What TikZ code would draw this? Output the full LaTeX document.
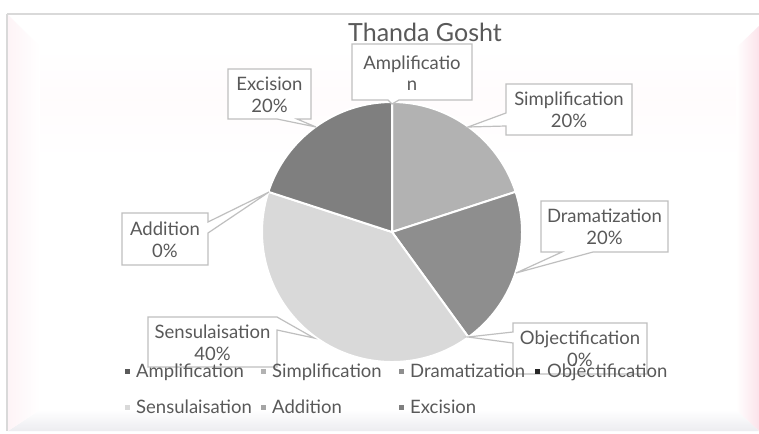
\documentclass[tikz,border=0pt]{standalone}
\usepackage{fontspec}
\setmainfont{Lato}
\definecolor{txt}{HTML}{595959}
\definecolor{edge}{HTML}{BFBFBF}
\definecolor{frameline}{HTML}{D9D9D9}
\definecolor{glow}{HTML}{FBE3EA}
\definecolor{floor}{HTML}{ECECF0}
\definecolor{cAmp}{HTML}{5A5A5A}
\definecolor{cSim}{HTML}{B2B2B2}
\definecolor{cDra}{HTML}{8E8E8E}
\definecolor{cObj}{HTML}{262626}
\definecolor{cSen}{HTML}{D9D9D9}
\definecolor{cAdd}{HTML}{A5A5A5}
\definecolor{cExc}{HTML}{7F7F7F}
\begin{document}
\begin{tikzpicture}[x=1pt,y=-1pt,
  slice/.style={draw=white,line width=2pt,line join=round},
  callout/.style={draw=edge,fill=white,line width=1.2pt,line join=miter},
  lab/.style={text=txt,font=\fontsize{18.5}{21.5}\selectfont,align=center,inner sep=0pt},
  legtext/.style={text=txt,font=\fontsize{18.5}{21}\selectfont,anchor=base west,inner sep=0pt},
  legmark/.style={inner sep=0pt,minimum size=5pt,anchor=center}]
\useasboundingbox (0,0) rectangle (759,433);
% chart area with soft bevelled edges
\fill[white] (0,0) rectangle (759,433);
\shade[left color=white,right color=glow] (736,48) -- (759,26) -- (759,431) -- (736,410) -- cycle;
\shade[top color=white,bottom color=floor] (40,410) -- (736,410) -- (759,431) -- (8,431) -- cycle;
\shade[left color=glow!40,right color=white] (8,15) -- (40,47) -- (40,410) -- (8,431) -- cycle;
\shade[top color=white,bottom color=glow!12] (40,47) rectangle (736,100);
\shade[top color=glow!12,bottom color=white] (40,100) rectangle (736,160);
\draw[frameline,line width=1.5pt] (7,14) -- (760,14);
\draw[frameline,line width=1.5pt] (7,14) -- (7,431);
% title
\node[text=txt,font=\fontsize{25}{25}\selectfont,inner sep=0pt,anchor=base] (title) at (425,42) {Thanda Gosht};
% pie, centre (392,232), radius 130
\coordinate (c) at (392,232);
\fill[cSim,slice] (c) -- ++(-90:130) arc[start angle=-90,end angle=-18,radius=130] -- cycle;
\fill[cDra,slice] (c) -- ++(-18:130) arc[start angle=-18,end angle=54,radius=130] -- cycle;
\fill[cSen,slice] (c) -- ++(54:130) arc[start angle=54,end angle=198,radius=130] -- cycle;
\fill[cExc,slice] (c) -- ++(198:130) arc[start angle=198,end angle=270,radius=130] -- cycle;
% data label callouts
\draw[callout] (352,44) -- (472,44) -- (472,100) -- (399,100) -- (392,104) -- (388,100) -- (352,100) -- cycle;
\node[lab] (lAmp) at (412,73) {Amplificatio\\n};
\draw[callout] (228,69) -- (311,69) -- (311,119) -- (297,119) -- (316,127) -- (277,119) -- (228,119) -- cycle;
\node[lab] (lExc) at (269.5,95) {Excision\\20\%};
\draw[callout] (506,84) -- (632,84) -- (632,135) -- (506,135) -- (506,126) -- (468,127) -- (506,113) -- cycle;
\node[lab] (lSim) at (569,110) {Simplification\\20\%};
\draw[callout] (541,201) -- (668,201) -- (668,252) -- (593,252) -- (516,273) -- (562,252) -- (541,252) -- cycle;
\node[lab] (lDra) at (604.5,227) {Dramatization\\20\%};
\draw[callout] (122,213) -- (208,213) -- (208,222) -- (269,192) -- (208,233) -- (208,265) -- (122,265) -- cycle;
\node[lab] (lAdd) at (165,240) {Addition\\0\%};
\draw[callout] (148,317) -- (277,317) -- (314,338) -- (277,330) -- (277,367) -- (148,367) -- cycle;
\node[lab] (lSen) at (212.5,343) {Sensulaisation\\40\%};
\draw[callout] (513,323) -- (647,323) -- (647,374) -- (513,374) -- (513,343) -- (468,337) -- (513,332) -- cycle;
\node[lab] (lObj) at (580,349) {Objectification\\0\%};
% legend
\node[legmark,fill=cAmp] (mAmp) at (127,371) {};
\node[legtext] (tAmp) at (136,377) {Amplification};
\node[legmark,fill=cSim] (mSim) at (263,371) {};
\node[legtext] (tSim) at (272,377) {Simplification};
\node[legmark,fill=cDra] (mDra) at (401,371) {};
\node[legtext] (tDra) at (410,377) {Dramatization};
\node[legmark,fill=cObj] (mObj) at (537,371) {};
\node[legtext] (tObj) at (547,377) {Objectification};
\node[legmark,fill=cSen] (mSen) at (127,407) {};
\node[legtext] (tSen) at (136,413) {Sensulaisation};
\node[legmark,fill=cAdd] (mAdd) at (263,407) {};
\node[legtext] (tAdd) at (272,413) {Addition};
\node[legmark,fill=cExc] (mExc) at (401,407) {};
\node[legtext] (tExc) at (410,413) {Excision};
\end{tikzpicture}
\end{document}
